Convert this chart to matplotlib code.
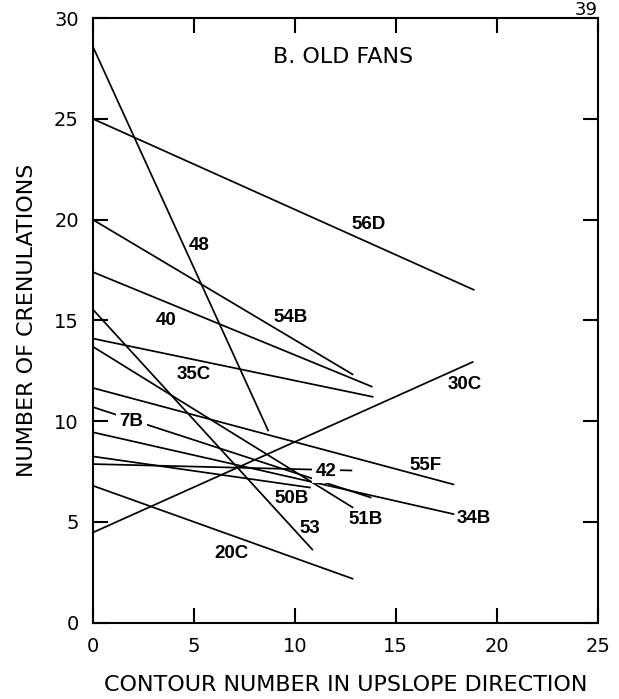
import matplotlib
matplotlib.use('Agg')
import matplotlib.pyplot as plt
from matplotlib import font_manager

# ---- data ----
names   = ['48', '56D', '54B', '40', '35C', '53', '51B', '55F', '7B', '34B', '50B', '42', '20C', '30C']
x_start = [0, 0, 0, 0, 0, 0, 0, 0, 0, 0, 0, 0, 0, 0]
y_start = [28.6, 25.0, 20.0, 17.4, 14.1, 15.55, 13.7, 11.65, 10.7, 9.45, 8.25, 7.87, 6.8, 4.47]
x_end   = [8.7, 18.9, 12.9, 13.85, 13.9, 10.9, 12.9, 17.9, 13.8, 17.9, 10.8, 12.85, 12.9, 18.85]
y_end   = [9.5, 16.5, 12.3, 11.7, 11.2, 3.6, 5.7, 6.85, 6.2, 5.38, 6.7, 7.55, 2.17, 12.95]
label_x = [5.26, 13.65, 9.8, 3.63, 4.98, 10.76, 13.5, 16.5, 1.91, 18.85, 9.86, 11.55, 6.88, 18.4]
label_y = [18.73, 19.78, 15.15, 15.0, 12.29, 4.68, 5.1, 7.8, 9.97, 5.18, 6.17, 7.52, 3.41, 11.84]
boxed   = ['7B', '42']
x_ticks = [0, 5, 10, 15, 20, 25]
y_ticks = [0, 5, 10, 15, 20, 25, 30]

plt.rcParams['font.family'] = ['DejaVu Sans']

avail = {f.name for f in font_manager.fontManager.ttflist}
if 'Liberation Sans Narrow' in avail:
    lab_family, lab_size = 'Liberation Sans Narrow', 15
else:
    lab_family, lab_size = 'Liberation Sans', 13.5

fig = plt.figure(figsize=(6.19, 6.99), dpi=100)
ax = fig.add_axes([92.7 / 619, (699 - 622.7) / 699, 505 / 619, 604.7 / 699])

for xs, ys, xe, ye in zip(x_start, y_start, x_end, y_end):
    ax.plot([xs, xe], [ys, ye], color='black', lw=1.25, solid_capstyle='butt', zorder=2)

for n, lx, ly in zip(names, label_x, label_y):
    kw = {}
    if n in boxed:
        kw['bbox'] = dict(boxstyle='square,pad=0.2', fc='white', ec='none')
    ax.text(lx, ly, n, ha='center', va='center', family=lab_family,
            fontweight='bold', fontsize=lab_size, zorder=3, **kw)

ax.text(12.4, 28.05, 'B. OLD FANS', ha='center', va='center', fontsize=16)

ax.set_xlim(0, 25)
ax.set_ylim(0, 30)
ax.set_xticks(x_ticks)
ax.set_yticks(y_ticks)
ax.tick_params(direction='in', length=11, width=1.5, top=True, right=True,
               labelsize=14, pad=10)
for s in ax.spines.values():
    s.set_linewidth(1.5)

ax.set_xlabel('CONTOUR NUMBER IN UPSLOPE DIRECTION', fontsize=16, labelpad=14)
ax.set_ylabel('NUMBER OF CRENULATIONS', fontsize=16, labelpad=12)

fig.text(598 / 619, 1 - 1 / 699, '39', ha='right', va='top', fontsize=13)

fig.savefig('out.png', dpi=100)
